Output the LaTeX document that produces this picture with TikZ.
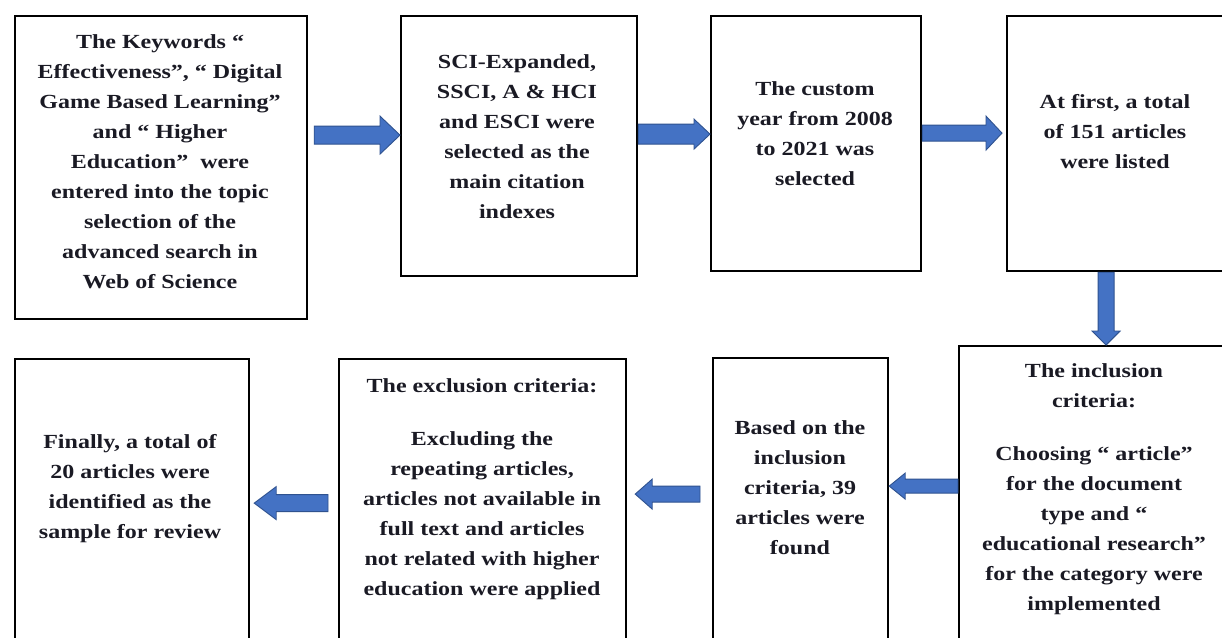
\documentclass[tikz,border=0pt]{standalone}
\usepackage{fontspec}
\setmainfont[FakeStretch=1.2]{Liberation Serif}
\usetikzlibrary{calc}
\definecolor{arrfill}{HTML}{4472C4}
\definecolor{arrline}{HTML}{2F528F}
\definecolor{txtcol}{HTML}{1A1A24}
\tikzset{
  box/.style={draw=black, line width=2.2pt, rectangle, anchor=north west, inner sep=0pt, fill=white},
  txt/.style={align=center, inner sep=0pt, font=\bfseries\fontsize{20}{30}\selectfont, text=txtcol},
  blockarrow/.style={fill=arrfill, draw=arrline, line width=0.9pt, line join=miter},
}
\newcommand\blockarr[6]{%
  \coordinate (#6s) at #1;
  \coordinate (#6e) at #2;
  \coordinate (#6h) at ($(#6e)!#5!(#6s)$);
  \filldraw[blockarrow] ($(#6s)!#3!90:(#6e)$) -- ($(#6h)!#3!90:(#6e)$) -- ($(#6h)!#4!90:(#6e)$)
    -- (#6e) -- ($(#6h)!#4!-90:(#6e)$) -- ($(#6h)!#3!-90:(#6e)$) -- ($(#6s)!#3!-90:(#6e)$) -- cycle;
}
\begin{document}
\begin{tikzpicture}[x=1pt,y=-1pt]
\useasboundingbox (0,0) rectangle (1222,637);
\fill[white] (0,0) rectangle (1222,637);
\clip (0,0) rectangle (1222,637);
% boxes
\node[box, minimum width=292pt, minimum height=303pt] (b1) at (14,15) {};
\node[box, minimum width=236pt, minimum height=260pt] (b2) at (400,15) {};
\node[box, minimum width=210pt, minimum height=255pt] (b3) at (710,15) {};
\node[box, minimum width=240pt, minimum height=255pt] (b4) at (1006,15) {};
\node[box, minimum width=290pt, minimum height=320pt] (b5) at (958,345) {};
\node[box, minimum width=175pt, minimum height=300pt] (b6) at (712,357) {};
\node[box, minimum width=287pt, minimum height=300pt] (b7) at (338,358) {};
\node[box, minimum width=234pt, minimum height=300pt] (b8) at (14,358) {};
% texts
\node[txt] (t1) at (160,162) {The Keywords “\\Effectiveness”, “ Digital\\Game Based Learning”\\and “ Higher\\Education”\ \ were\\entered into the topic\\selection of the\\advanced search in\\Web of Science};
\node[txt] (t2) at (517,137) {SCI-Expanded,\\SSCI, A \& HCI\\and ESCI were\\selected as the\\main citation\\indexes};
\node[txt] (t3) at (815,134) {The custom\\year from 2008\\to 2021 was\\selected};
\node[txt] (t4) at (1115,132) {At first, a total\\of 151 articles\\were listed};
\node[txt] (t5) at (1094,489) {The inclusion\\criteria:\\[23pt]Choosing “ article”\\for the document\\type and “\\educational research”\\for the category were\\implemented};
\node[txt] (t6) at (800,488) {Based on the\\inclusion\\criteria, 39\\articles were\\found};
\node[txt] (t7) at (482,489) {The exclusion criteria:\\[23pt]Excluding the\\repeating articles,\\articles not available in\\full text and articles\\not related with higher\\education were applied};
\node[txt] (t8) at (130,489) {Finally, a total of\\20 articles were\\identified as the\\sample for review};
% arrows
\blockarr{([shift={(6,-32.5)}]b1.east)}{([shift={(0,-11)}]b2.west)}{9pt}{19pt}{20pt}{aA}
\blockarr{([shift={(0,-12)}]b2.east)}{([shift={(0,-9.5)}]b3.west)}{10pt}{15pt}{16pt}{aB}
\blockarr{([shift={(0,-10.5)}]b3.east)}{([shift={(-4,-10.5)}]b4.west)}{8pt}{17pt}{16pt}{aC}
\blockarr{([shift={(-21,0)}]b4.south)}{([shift={(2,0)}]b5.north)}{8pt}{14pt}{14pt}{aD}
\blockarr{([shift={(0,-20)}]b5.west)}{([shift={(0,-22)}]b6.east)}{7pt}{13pt}{16pt}{aE}
\blockarr{([shift={(-12,-14)}]b6.west)}{([shift={(8,-15)}]b7.east)}{8pt}{15pt}{17pt}{aF}
\blockarr{([shift={(-10,-6)}]b7.west)}{([shift={(4,-6)}]b8.east)}{8.5pt}{16.5pt}{22pt}{aG}
\end{tikzpicture}
\end{document}
